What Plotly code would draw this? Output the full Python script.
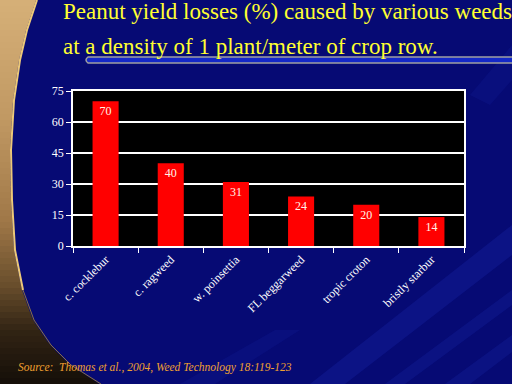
import plotly.graph_objects as go

# ---- data ----
categories = ["c. cocklebur", "c. ragweed", "w. poinsettia", "FL beggarweed",
              "tropic croton", "bristly starbur"]
losses = [70, 40, 31, 24, 20, 14]
y_ticks = [0, 15, 30, 45, 60, 75]
title_lines = ["Peanut yield losses (%) caused by various weeds",
               "at a density of 1 plant/meter of crop row."]
source_text = "Source:  Thomas et al., 2004, Weed Technology 18:119-123"

# ---- layout geometry (pixels) ----
W, H = 512, 384
L, R, T, B = 73, 48, 91, 138
PW, PH = W - L - R, H - T - B


def px(x):
    return (x - L) / PW


def py(y):
    return (H - B - y) / PH


SERIF = "Liberation Serif, Times New Roman, serif"

fig = go.Figure()
fig.add_trace(go.Bar(
    x=categories, y=losses,
    marker=dict(color="#ff0000", line=dict(width=0)),
    text=[str(v) for v in losses],
    textposition="inside", insidetextanchor="end",
    textfont=dict(family=SERIF, size=12, color="#fff4e8"),
    width=0.4, hoverinfo="skip",
))

shapes = []

# background streaks (soft lighter blue, diagonal)
streaks = [
    ([(310, 384), (345, 384), (512, 255), (512, 225)], 0.14),
    ([(385, 384), (405, 384), (512, 305), (512, 290)], 0.12),
    ([(445, 384), (470, 384), (512, 352), (512, 335)], 0.12),
    ([(180, 384), (215, 384), (300, 330), (275, 330)], 0.08),
    ([(470, 95), (512, 45), (512, 80), (490, 105)], 0.08),
]
for pts, a in streaks:
    path = "M " + " L ".join("%f %f" % (px(x), py(y)) for x, y in pts) + " Z"
    shapes.append(dict(type="path", path=path, xref="paper", yref="paper",
                       fillcolor="rgba(50,80,240,%.2f)" % a, line=dict(width=0), layer="below"))

# decorative tan swoosh on the left
edge = [(0, 36), (30, 26), (60, 19), (100, 13), (150, 10), (200, 11), (250, 14),
        (290, 22), (320, 33), (345, 50), (365, 70), (384, 100)]


def edge_x(y):
    for (y0, x0), (y1, x1) in zip(edge[:-1], edge[1:]):
        if y0 <= y <= y1:
            return x0 + (x1 - x0) * (y - y0) / (y1 - y0)
    return edge[-1][1]


stops = [(0, (214, 176, 120)), (120, (192, 152, 98)), (220, (160, 120, 72)),
         (285, (105, 78, 44)), (330, (50, 36, 20)), (384, (20, 14, 8))]


def col(y):
    for (y0, c0), (y1, c1) in zip(stops[:-1], stops[1:]):
        if y0 <= y <= y1:
            f = (y - y0) / (y1 - y0)
            return "rgb(%d,%d,%d)" % tuple(round(a + (b - a) * f) for a, b in zip(c0, c1))
    return "rgb(20,14,8)"


step = 6
yy = 0
while yy < H:
    y1 = min(yy + step, H)
    path = "M %f %f L %f %f L %f %f L %f %f Z" % (
        px(0), py(yy), px(edge_x(yy)), py(yy), px(edge_x(y1)), py(y1 + 0.6), px(0), py(y1 + 0.6))
    shapes.append(dict(type="path", path=path, xref="paper", yref="paper",
                       fillcolor=col((yy + y1) / 2), line=dict(width=0), layer="below"))
    yy = y1

edge_upper = [p for p in edge if p[0] <= 300]
edge_path = "M " + " L ".join("%f %f" % (px(x + 1), py(y)) for y, x in edge_upper)
shapes.append(dict(type="path", path=edge_path, xref="paper", yref="paper",
                   line=dict(color="#ecc878", width=2), layer="below"))
edge_lower = [p for p in edge if p[0] >= 290]
edge_path2 = "M " + " L ".join("%f %f" % (px(x + 1), py(y)) for y, x in edge_lower)
shapes.append(dict(type="path", path=edge_path2, xref="paper", yref="paper",
                   line=dict(color="#8a7048", width=1), layer="below"))

# title underline bar (rounded left end)
bar_path = "M %f %f L %f %f L %f %f L %f %f Q %f %f %f %f Z" % (
    px(88), py(57), px(520), py(57), px(520), py(63), px(88), py(63),
    px(84), py(60), px(88), py(57))
shapes.append(dict(type="path", path=bar_path, xref="paper", yref="paper",
                   fillcolor="#1428c8", line=dict(color="#a0a0a0", width=1.5), layer="below"))

fig.update_layout(shapes=shapes)

annotations = [
    dict(text=title_lines[0], x=px(61), y=py(12), xref="paper", yref="paper",
         xanchor="left", yanchor="middle", showarrow=False,
         font=dict(family=SERIF, size=23, color="#ffff30")),
    dict(text=title_lines[1], x=px(61), y=py(46), xref="paper", yref="paper",
         xanchor="left", yanchor="middle", showarrow=False,
         font=dict(family=SERIF, size=23, color="#ffff30")),
    dict(text="<i>" + source_text + "</i>", x=px(16), y=py(367), xref="paper", yref="paper",
         xanchor="left", yanchor="middle", showarrow=False,
         font=dict(family=SERIF, size=11.5, color="#f0a030")),
]

fig.update_layout(
    width=W, height=H,
    margin=dict(l=L, r=R, t=T, b=B, pad=0),
    paper_bgcolor="#060a74",
    plot_bgcolor="#000000",
    showlegend=False,
    annotations=annotations,
    bargap=0.6,
    xaxis=dict(
        showline=True, linecolor="white", linewidth=1.5, mirror=True,
        ticks="outside", tickson="boundaries", ticklen=5, tickcolor="white",
        tickangle=-45, showgrid=False,
        tickfont=dict(family=SERIF, size=12, color="white"),
    ),
    yaxis=dict(
        range=[0, 75], tickvals=y_ticks,
        showline=True, linecolor="white", linewidth=1.5, mirror=True,
        ticks="outside", ticklen=5, tickcolor="white",
        showgrid=True, gridcolor="white", gridwidth=1.5, zeroline=False,
        tickfont=dict(family=SERIF, size=12, color="white"),
    ),
)

fig.write_html("out.html", config={"displayModeBar": False},
               post_script="document.body.style.margin='0';")
